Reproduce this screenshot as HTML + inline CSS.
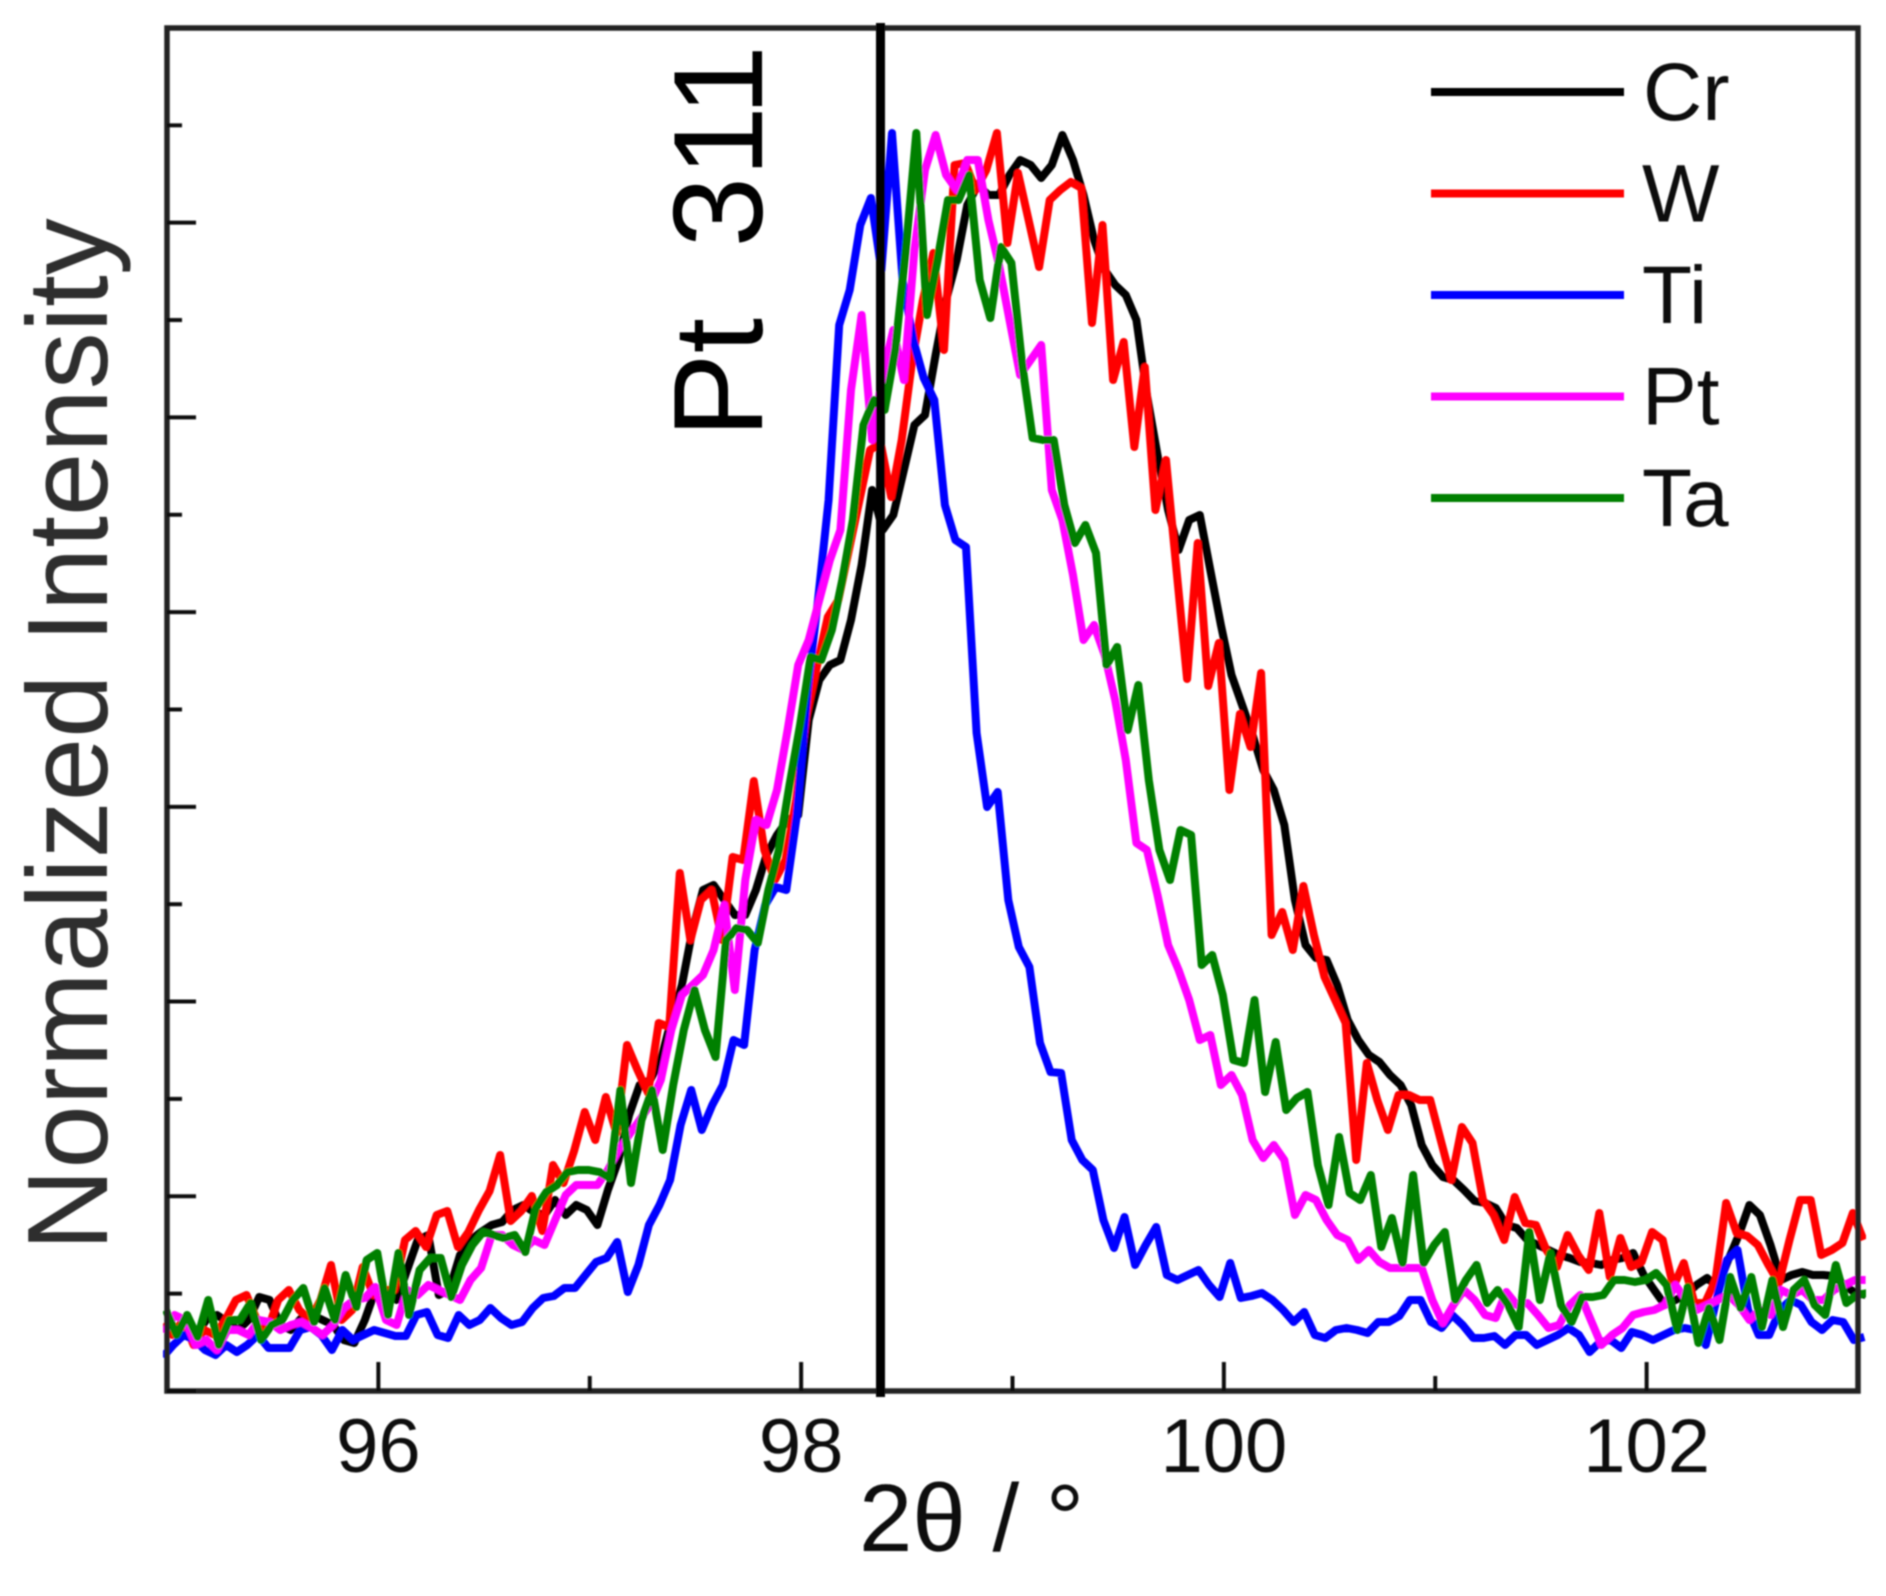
<!DOCTYPE html>
<html lang="en">
<head>
<meta charset="utf-8">
<title>Pt 311 normalized intensity</title>
<style>
html,body{margin:0;padding:0;background:#fff;}
#chart{display:block;width:1886px;height:1596px;}
text{font-family:"Liberation Sans",sans-serif;}
</style>
</head>
<body>
<svg id="chart" xmlns="http://www.w3.org/2000/svg" width="1886" height="1596" viewBox="0 0 1886 1596">
<defs>
<filter id="soft" x="-2%" y="-2%" width="104%" height="104%"><feGaussianBlur stdDeviation="0.8"/></filter>
<clipPath id="data-clip"><rect x="163" y="20" width="1703" height="1380"/></clipPath>
</defs>
<rect width="1886" height="1596" fill="#fff"/>
<g id="root" filter="url(#soft)">
<g id="series-layer" clip-path="url(#data-clip)"></g>
<g id="axis-layer"></g>
<rect x="876" y="23" width="9" height="1374" fill="#000"/>
<text transform="translate(762,438) rotate(-90)" font-size="127" fill="#000" xml:space="preserve">Pt  311</text>
<text transform="translate(107,1251) rotate(-90)" font-size="114" fill="#2e2e2e">Normalized Intensity</text>
<text x="859" y="1551" font-size="96" fill="#111">2θ / °</text>
<g id="legend-layer"></g>
</g>
</svg>
<script>
var twoTheta = [95,95.05,95.1,95.15,95.2,95.25,95.3,95.35,95.4,95.45,95.5,95.55,95.6,95.65,95.7,95.75,95.8,95.85,95.9,95.95,
96,96.05,96.1,96.15,96.2,96.25,96.3,96.35,96.4,96.45,96.5,96.55,96.6,96.65,96.7,96.75,96.8,96.85,96.9,96.95,
97,97.05,97.1,97.15,97.2,97.25,97.3,97.35,97.4,97.45,97.5,97.55,97.6,97.65,97.7,97.75,97.8,97.85,97.9,97.95,
98,98.05,98.1,98.15,98.2,98.25,98.3,98.35,98.4,98.45,98.5,98.55,98.6,98.65,98.7,98.75,98.8,98.85,98.9,98.95,
99,99.05,99.1,99.15,99.2,99.25,99.3,99.35,99.4,99.45,99.5,99.55,99.6,99.65,99.7,99.75,99.8,99.85,99.9,99.95,
100,100.05,100.1,100.15,100.2,100.25,100.3,100.35,100.4,100.45,100.5,100.55,100.6,100.65,100.7,100.75,100.8,100.85,100.9,100.95,
101,101.05,101.1,101.15,101.2,101.25,101.3,101.35,101.4,101.45,101.5,101.55,101.6,101.65,101.7,101.75,101.8,101.85,101.9,101.95,
102,102.05,102.1,102.15,102.2,102.25,102.3,102.35,102.4,102.45,102.5,102.55,102.6,102.65,102.7,102.75,102.8,102.85,102.9,102.95,103,103.05];

var crValues = [6.6,6.1,6.6,5.6,7.1,7.6,6.9,6.1,7.1,9.4,
9.1,6.6,6.1,7.3,7.6,7.1,6.6,5.1,4.8,7.1,
10.1,10.1,9.1,12.1,15.1,15.6,9.6,10.1,13.6,15.1,
15.9,16.6,16.9,18.1,18.6,17.9,17.6,19.1,17.6,18.6,
18.1,16.6,20.1,23.1,27.6,30.6,31.1,33.1,37.1,40.6,
46.1,50.1,50.6,49.1,47.6,47.6,50.1,53.6,55.6,57.1,
57.6,67.1,71.1,72.6,73.1,77.1,82.6,90.1,86.1,87.6,
92.1,96.6,97.6,103.6,109.1,113.1,118.6,120.6,119.6,119.6,
121.6,123.1,122.6,121.3,122.6,125.6,123.1,119.6,115.1,112.1,
110.6,109.6,107.1,99.6,93.6,88.1,84.1,87.1,87.6,82.1,
76.6,71.6,68.6,65.6,62.1,60.1,56.6,49.1,44.6,43.3,
43.1,40.6,37.1,35.1,33.6,32.9,31.6,30.6,28.6,24.6,
22.6,21.4,21.1,20.1,19.0,18.8,18.3,16.6,16.3,15.1,
14.6,14.1,13.6,13.3,12.9,12.8,12.6,13.1,13.3,13.8,
11.6,10.1,8.6,9.1,9.6,10.6,11.3,10.4,13.1,15.6,
18.6,17.6,14.6,11.1,11.6,11.9,11.6,11.6,11.5,10.6,9.8,9.6];

var wValues = [6.6,5.6,7.1,4.6,6.1,5.6,7.1,9.1,9.6,7.1,
6.1,9.1,10.1,8.1,7.1,9.1,12.6,7.1,8.1,12.4,
9.6,10.1,10.1,15.1,16.0,14.4,17.6,18.0,14.4,15.9,
18.1,20.0,23.6,17.0,18.0,19.5,16.0,22.6,20.8,24.0,
27.9,25.1,29.4,25.8,34.6,32.1,29.8,36.8,36.4,51.8,
45.1,49.1,50.1,45.1,53.4,53.1,61.0,54.1,51.1,53.1,
59.1,67.6,72.6,77.4,79.1,84.1,89.1,94.1,94.8,89.4,
95.1,103.1,109.1,113.8,104.1,122.6,122.8,120.1,122.1,125.8,
114.8,121.8,117.1,112.4,119.1,120.1,120.9,120.3,106.8,116.6,
101.1,104.9,94.4,102.4,88.1,93.1,82.1,71.2,84.8,70.5,
74.8,60.1,67.7,64.4,71.8,45.6,47.9,44.1,50.5,45.6,
41.4,39.1,36.8,23.1,32.8,29.1,26.1,29.6,29.6,29.1,
29.1,25.1,21.1,26.4,24.8,19.1,17.6,15.1,19.4,16.8,
16.6,14.1,12.4,15.6,13.6,12.1,17.8,11.4,15.3,12.4,
12.9,15.9,15.1,10.4,12.8,8.8,8.8,11.1,18.8,15.8,
15.5,14.6,12.6,10.8,15.1,19.1,19.1,13.6,14.1,14.8,17.8,15.1];

var tiValues = [3.4,4.6,5.6,5.1,4.1,3.6,4.6,3.9,4.6,5.6,
4.3,4.3,4.3,6.1,6.4,5.6,4.1,6.1,5.1,5.6,
6.1,5.8,5.5,5.5,7.6,7.9,5.6,5.3,7.6,6.6,
7.1,8.3,7.3,6.6,6.9,8.3,9.3,9.5,10.3,10.3,
11.6,12.9,13.3,14.9,9.9,12.6,16.6,18.6,21.1,26.6,
30.1,26.1,28.6,30.6,35.1,34.6,44.1,48.6,50.4,50.1,
57.6,70.1,79.1,89.1,106.6,110.1,116.6,119.3,112.1,125.8,
111.1,105.1,101.3,99.1,88.6,85.1,84.4,65.8,58.4,59.9,
49.1,44.4,42.4,34.8,31.9,31.8,25.1,23.1,22.1,17.1,
14.3,17.4,12.6,14.6,16.4,11.6,11.1,11.6,12.1,10.6,
9.4,12.8,9.3,9.5,9.8,9.1,8.1,6.9,7.9,5.6,
5.3,6.1,6.3,6.1,5.8,6.9,6.9,7.5,9.1,9.1,
6.9,6.3,7.6,6.6,5.3,5.3,5.5,4.6,5.6,5.6,
4.6,5.1,5.6,6.3,5.6,3.9,4.9,5.1,4.3,5.9,
5.6,5.1,5.6,6.1,6.3,6.1,4.6,9.1,13.1,14.1,
8.1,5.6,5.6,8.1,9.1,8.6,6.9,6.1,7.1,6.9,5.1,5.4];

var ptValues = [5.8,7.6,7.1,4.6,5.1,4.1,6.1,6.1,5.6,7.1,
6.9,6.1,6.6,6.9,6.3,5.6,6.6,8.3,9.1,9.3,
10.4,7.1,6.6,10.1,9.6,10.6,10.1,9.6,9.1,11.1,
12.3,15.6,15.6,14.6,14.1,15.1,14.6,17.1,19.6,20.6,
20.6,20.6,22.1,24.1,25.6,27.1,28.6,31.1,36.1,39.6,
40.6,41.6,44.1,48.6,40.1,51.1,57.1,56.6,60.1,66.1,
72.6,75.1,79.1,83.1,86.1,100.1,107.6,95.1,101.6,106.1,
101.1,114.1,122.1,125.6,121.6,120.1,123.1,123.1,117.1,112.6,
107.1,101.6,103.1,104.6,90.1,87.1,81.6,75.1,76.6,73.6,
69.1,63.1,54.8,54.1,49.6,44.6,42.1,39.1,35.1,35.6,
30.6,31.6,29.6,25.1,23.3,24.6,23.1,17.6,19.6,19.1,
17.1,15.6,15.1,13.1,14.1,12.9,12.3,12.3,12.3,12.3,
9.1,6.8,8.6,10.1,9.1,7.6,7.3,9.9,8.6,8.8,
7.6,6.3,6.6,8.6,9.6,7.1,4.6,5.6,6.3,7.6,
7.9,8.1,8.6,10.6,9.1,8.1,8.6,9.1,9.6,8.6,
7.1,8.1,7.6,10.1,9.6,10.1,9.1,9.1,10.1,10.6,11.1,11.1];

var taValues = [8.1,5.6,7.6,5.4,9.1,4.6,7.1,7.1,8.8,5.1,
6.6,7.1,9.1,10.3,6.9,10.3,7.1,11.6,8.4,13.1,
13.8,7.6,13.8,7.6,12.1,13.3,13.3,9.4,12.6,14.6,
15.9,15.6,15.3,15.6,13.9,18.3,19.9,20.6,21.9,22.1,
22.1,21.9,21.3,30.1,20.8,27.1,30.1,24.1,30.6,36.1,
40.1,36.1,33.4,45.1,46.3,46.1,44.8,50.1,54.1,60.6,
66.6,73.4,73.1,76.1,81.1,87.1,96.6,99.1,98.1,104.1,
114.1,125.8,107.6,113.1,119.1,119.1,121.6,111.1,107.3,114.4,
112.8,102.8,95.3,95.1,95.1,88.6,84.8,86.6,83.8,72.6,
74.4,66.1,70.6,61.1,54.1,51.1,56.1,55.6,42.6,43.6,
39.6,33.1,32.8,39.1,29.9,34.9,28.1,29.3,29.9,22.6,
18.6,25.4,19.8,19.1,21.6,14.4,17.3,12.8,21.6,12.8,
14.6,15.9,9.1,11.1,12.6,8.8,10.1,8.6,6.4,15.9,
9.1,13.8,8.6,6.9,9.4,9.4,9.6,11.1,11.1,10.9,
11.1,11.8,10.6,6.1,10.4,4.8,8.3,5.1,11.4,8.3,
11.4,6.4,11.1,6.4,10.1,11.1,8.6,7.6,12.6,8.8,9.6,9.8];

var seriesNames = ["Cr","W","Ti","Pt","Ta"];
var seriesColors = ["#000000","#ff0000","#0000ff","#ff00ff","#008000"];
var seriesThetaShift = [-0.014,-0.024,-0.02,-0.014,-0.005];
var xMajorTicks = [96,98,100,102];
var xMinorTicks = [97,99,101];
var yTickIndex = [0,1,2,3,4,5,6,7,8,9,10,11,12,13];

var allSeries = [crValues,wValues,tiValues,ptValues,taValues];
var SVGNS = "http://www.w3.org/2000/svg";
var plotLeft = 167, plotRight = 1858, plotTop = 28, plotBottom = 1391;
var xDomain = [95,103], yDomain = [0,136.3], yTickStep = 9.736;

function xScale(v){ return plotLeft + (v - xDomain[0]) / (xDomain[1] - xDomain[0]) * (plotRight - plotLeft); }
function yScale(v){ return plotBottom - (v - yDomain[0]) / (yDomain[1] - yDomain[0]) * (plotBottom - plotTop); }

var seriesLayer = document.getElementById("series-layer");
allSeries.forEach(function(values, s){
  var pts = values.map(function(v, i){ return xScale(twoTheta[i] + seriesThetaShift[s]).toFixed(1) + "," + yScale(v).toFixed(1); }).join(" ");
  var line = document.createElementNS(SVGNS, "polyline");
  line.setAttribute("points", pts);
  line.setAttribute("fill", "none");
  line.setAttribute("stroke", seriesColors[s]);
  line.setAttribute("stroke-width", "8");
  line.setAttribute("stroke-linejoin", "round");
  
  
  seriesLayer.appendChild(line);
});

var axisLayer = document.getElementById("axis-layer");
var frame = document.createElementNS(SVGNS, "rect");
frame.setAttribute("x", plotLeft);
frame.setAttribute("y", plotTop);
frame.setAttribute("width", plotRight - plotLeft);
frame.setAttribute("height", plotBottom - plotTop);
frame.setAttribute("fill", "none");
frame.setAttribute("stroke", "#222");
frame.setAttribute("stroke-width", "5.5");


axisLayer.appendChild(frame);

function tickLine(x1, y1, x2, y2){
  var t = document.createElementNS(SVGNS, "line");
  t.setAttribute("x1", x1); t.setAttribute("y1", y1);
  t.setAttribute("x2", x2); t.setAttribute("y2", y2);
  t.setAttribute("stroke", "#111");
  t.setAttribute("stroke-width", "4");
  axisLayer.appendChild(t);
  return t;
}
xMajorTicks.forEach(function(v){
  var t = tickLine(xScale(v), plotBottom, xScale(v), plotBottom - 29);
  
  
  var label = document.createElementNS(SVGNS, "text");
  label.setAttribute("x", xScale(v));
  label.setAttribute("y", 1472);
  label.setAttribute("text-anchor", "middle");
  label.setAttribute("font-size", "76");
  label.setAttribute("fill", "#111");
  label.textContent = String(v);
  
  
  axisLayer.appendChild(label);
});
xMinorTicks.forEach(function(v){
  var t = tickLine(xScale(v), plotBottom, xScale(v), plotBottom - 15);
  
  
});
yTickIndex.forEach(function(n){
  var y = yScale(n * yTickStep);
  var len = n % 2 === 0 ? 29 : 15;
  var t = tickLine(plotLeft, y, plotLeft + len, y);
  
  
});

var legendLayer = document.getElementById("legend-layer");
seriesNames.forEach(function(name, s){
  var yLine = 92 + s * 101.5;
  var sw = document.createElementNS(SVGNS, "line");
  sw.setAttribute("x1", 1431); sw.setAttribute("x2", 1624);
  sw.setAttribute("y1", yLine); sw.setAttribute("y2", yLine);
  sw.setAttribute("stroke", seriesColors[s]);
  sw.setAttribute("stroke-width", "8");
  
  
  legendLayer.appendChild(sw);
  var lbl = document.createElementNS(SVGNS, "text");
  lbl.setAttribute("x", name === "Cr" ? 1643 : 1642);
  lbl.setAttribute("y", yLine + 28);
  lbl.setAttribute("font-size", "82");
  lbl.setAttribute("fill", "#111");
  lbl.textContent = name;
  
  
  legendLayer.appendChild(lbl);
});
</script>
</body>
</html>
